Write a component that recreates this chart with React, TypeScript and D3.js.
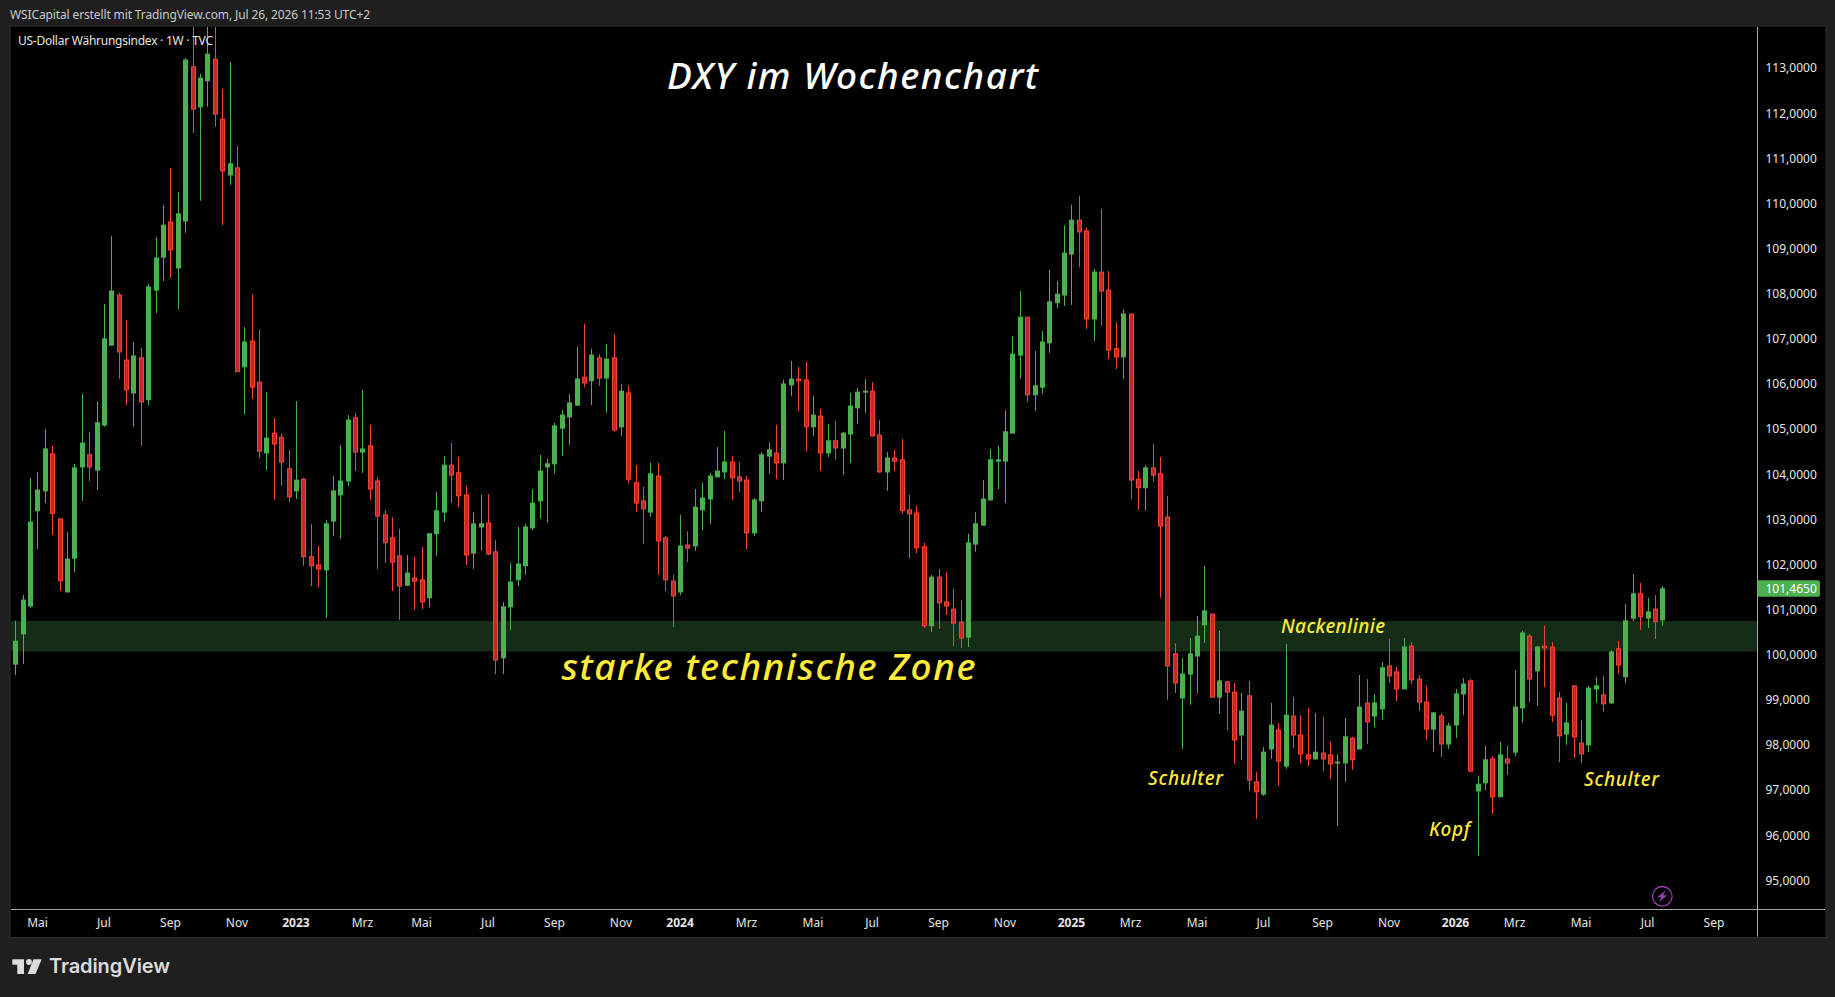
import * as d3 from "d3";
import { useEffect, useRef } from "react";

const WIDTH = 1835;
const HEIGHT = 997;

// weekly candles
const high = [
  100.75,101.32,103.92,104.05,105.00,104.63,103.02,102.72,104.23,105.78,
  104.94,105.62,107.77,109.28,108.02,107.42,106.93,106.80,108.22,109.26,
  109.97,110.79,110.26,113.22,114.07,112.87,113.99,113.99,112.54,113.14,
  111.27,107.26,107.99,107.20,105.82,105.25,104.91,104.54,105.62,103.92,
  102.90,102.41,102.99,103.96,104.65,105.31,105.36,105.87,105.09,103.94,
  103.21,103.05,102.79,102.21,102.17,102.39,102.70,103.61,104.40,104.69,
  104.38,103.74,103.16,103.54,103.56,102.54,101.17,102.03,102.83,102.90,
  103.67,104.43,104.34,105.14,105.42,105.78,106.82,107.33,106.78,106.66,
  106.89,107.11,106.00,105.96,104.20,103.72,104.25,104.25,102.63,101.77,
  103.10,102.74,103.67,103.81,104.03,104.60,104.96,104.40,104.27,103.96,
  103.47,104.49,104.71,105.09,106.09,106.51,106.38,106.49,105.73,105.45,
  105.11,105.18,104.94,105.80,105.91,106.11,106.04,105.20,104.49,104.54,
  104.78,103.54,103.30,102.48,101.77,101.90,101.83,101.46,101.21,102.68,
  103.16,103.87,104.56,104.63,105.42,107.06,108.06,107.48,106.73,107.17,
  108.53,108.28,109.52,109.97,110.17,109.46,108.55,109.88,108.50,107.37,
  107.66,107.55,104.07,104.20,104.67,104.38,103.52,100.25,99.93,100.37,
  100.86,101.97,100.90,100.53,99.40,99.37,99.15,99.42,97.40,97.95,
  98.93,98.49,100.24,99.06,98.66,98.82,98.71,98.62,98.07,97.80,
  98.60,98.18,99.55,99.46,99.13,99.84,100.35,99.73,100.37,100.28,
  99.55,99.31,98.73,98.71,98.49,99.24,99.48,99.46,97.31,97.98,
  97.75,98.07,97.98,99.66,100.53,100.46,100.19,100.64,100.28,99.17,
  98.93,99.33,98.55,99.31,99.51,99.53,100.10,100.30,101.12,101.79,
  101.59,101.26,101.32,101.52,
];
const low = [
  99.55,99.79,101.04,102.34,103.36,102.65,101.41,101.39,101.83,103.41,
  103.85,103.65,105.05,106.86,106.11,105.53,105.05,104.63,105.53,107.57,
  108.28,108.35,107.66,109.35,111.56,110.06,112.14,111.70,109.52,110.41,
  106.27,105.33,105.67,104.36,104.09,103.43,103.74,103.38,103.45,101.97,
  101.52,101.50,100.81,102.63,102.56,103.74,104.07,104.03,103.43,101.90,
  102.03,101.41,100.77,101.52,100.99,101.01,101.04,102.19,102.94,103.36,
  103.27,101.99,101.90,102.30,102.21,99.57,99.57,100.55,101.52,101.77,
  102.76,103.01,102.92,104.01,104.40,104.65,105.51,105.93,105.53,105.96,
  105.36,104.94,104.85,103.81,103.16,102.45,103.05,101.77,101.41,100.61,
  101.32,102.05,102.30,102.76,102.90,103.94,103.89,103.43,103.61,102.34,
  102.63,103.16,104.01,103.89,103.87,105.73,105.40,104.51,104.85,104.07,
  104.38,104.32,103.98,104.25,105.11,105.36,104.83,104.03,103.63,104.07,
  103.12,102.14,102.25,100.59,100.50,100.57,100.88,100.19,100.15,100.17,
  102.28,102.87,103.41,103.67,103.36,104.91,106.11,105.60,105.40,105.78,
  106.69,107.68,107.73,107.75,108.59,107.22,106.95,107.29,106.55,106.33,
  106.11,103.45,103.21,103.19,103.83,101.26,99.00,99.15,97.91,98.89,
  99.15,100.26,99.04,98.69,98.33,97.58,97.67,96.98,96.36,96.87,
  97.69,97.09,97.47,97.93,97.60,97.53,97.67,97.42,97.25,96.20,
  97.18,97.45,97.91,98.02,98.38,98.55,99.37,98.97,99.24,99.35,
  98.75,98.11,97.84,97.73,97.91,98.15,98.66,97.40,95.54,97.00,
  96.47,96.85,97.33,97.75,98.49,98.95,98.86,99.28,98.51,97.62,
  98.00,97.71,97.60,97.84,98.93,98.73,98.91,99.57,99.37,100.75,
  100.55,100.59,100.35,100.64,
];
const open = [
  99.79,100.46,101.08,103.19,103.63,104.45,103.01,101.39,102.14,104.16,
  104.43,104.09,105.09,106.86,107.97,106.53,105.80,106.58,105.65,108.08,
  108.81,109.59,108.57,109.61,113.03,112.14,112.72,113.20,111.87,110.63,
  110.79,106.38,106.95,106.04,104.47,104.91,104.82,104.12,103.63,103.89,
  102.17,101.99,101.88,102.96,103.54,103.85,105.25,104.49,104.63,103.85,
  103.10,102.59,102.19,101.54,101.70,101.66,101.26,102.68,103.16,104.20,
  104.03,103.54,102.25,102.83,102.92,102.28,99.93,101.06,101.66,101.97,
  102.81,103.41,104.16,104.23,105.02,105.27,105.53,106.15,106.07,106.58,
  106.13,106.58,105.05,105.80,103.81,103.41,103.16,103.96,102.59,101.63,
  101.39,102.43,102.41,103.21,103.45,103.94,104.05,104.27,103.94,103.87,
  102.70,103.41,104.40,104.47,104.25,105.98,106.11,106.09,105.05,105.29,
  104.47,104.74,104.58,104.89,105.47,105.82,105.84,104.87,104.05,104.36,
  104.32,103.21,103.14,102.39,100.64,101.72,101.17,101.01,100.72,100.39,
  102.45,102.87,103.43,104.29,104.29,104.91,106.64,107.48,105.76,105.93,
  106.91,107.80,107.97,108.88,109.63,109.39,107.44,108.48,108.08,106.78,
  106.60,107.55,103.89,103.70,104.14,104.01,103.05,100.02,99.04,99.57,
  99.97,100.66,100.90,99.06,99.40,99.17,98.22,99.09,97.18,96.91,
  97.91,98.33,97.53,98.64,98.22,97.78,97.69,97.82,97.78,97.60,
  97.60,98.15,97.91,98.93,98.64,98.80,99.75,99.62,99.24,100.19,
  99.46,98.95,98.35,98.64,98.02,98.44,99.13,99.42,96.98,97.16,
  97.69,96.85,97.69,97.84,98.82,100.41,99.64,100.19,100.17,99.04,
  98.24,99.31,98.04,98.00,99.24,99.11,98.93,100.13,99.51,100.81,
  101.35,100.81,101.01,100.77,
];
const close = [
  100.30,101.21,102.94,103.65,104.56,103.13,101.64,102.12,104.14,104.69,
  104.16,105.14,107.00,108.06,106.71,105.87,106.62,105.60,108.15,108.79,
  109.52,108.97,109.77,113.18,112.09,112.78,113.31,111.98,110.72,110.88,
  106.27,106.93,105.93,104.51,104.80,104.67,104.27,103.50,103.87,102.17,
  101.97,101.90,102.90,103.63,103.85,105.20,104.49,104.56,103.67,103.07,
  102.48,102.05,101.52,101.81,101.63,101.17,102.68,103.19,104.20,103.98,
  103.52,102.21,102.90,102.90,102.23,99.88,101.06,101.61,102.01,102.83,
  103.36,104.07,104.23,105.07,105.31,105.58,106.11,106.02,106.64,106.13,
  106.55,104.98,105.84,103.89,103.36,103.23,104.01,102.52,101.66,101.30,
  102.41,102.36,103.27,103.47,103.96,104.07,104.27,103.92,103.85,102.70,
  103.43,104.43,104.54,104.25,106.00,106.11,106.07,105.05,105.31,104.47,
  104.74,104.58,104.91,105.51,105.82,105.84,104.85,104.05,104.36,104.29,
  103.19,103.12,102.37,100.64,101.72,101.15,101.08,100.70,100.37,102.48,
  102.90,103.45,104.32,104.32,104.94,106.66,107.48,105.76,105.96,106.93,
  107.82,107.99,108.90,109.63,109.37,107.44,108.48,108.06,106.75,106.60,
  107.55,103.87,103.70,104.14,103.98,102.85,99.75,99.37,99.57,100.02,
  100.41,100.97,99.06,99.42,99.17,98.11,98.75,97.22,96.96,97.84,
  98.44,97.64,98.66,98.22,97.80,97.69,97.84,97.69,97.58,97.62,
  98.18,97.67,98.84,98.51,98.93,99.71,99.53,99.24,100.17,99.44,
  98.95,98.35,98.71,98.02,98.42,99.13,99.35,97.42,97.13,97.67,
  96.85,97.78,97.60,98.84,100.48,99.46,100.17,100.15,98.66,98.20,
  98.49,98.18,97.80,99.26,99.31,98.91,100.06,99.77,100.75,101.35,
  100.84,100.95,100.73,101.46,
];

// price axis
const priceTicks = [95,96,97,98,99,100,101,102,103,104,105,106,107,108,109,110,111,112,113];
const lastPrice = 101.465;

// time axis, position given as candle number
const timeLabels = ["Mai","Jul","Sep","Nov","2023","Mrz","Mai","Jul","Sep","Nov","2024","Mrz","Mai","Jul","Sep","Nov","2025","Mrz","Mai","Jul","Sep","Nov","2026","Mrz","Mai","Jul","Sep"];
const timeIndex = [3,12,21,30,38,47,55,64,73,82,90,99,108,116,125,134,143,151,160,169,177,186,195,203,212,221,230];

// the "starke technische Zone" band
const zoneTop = 100.75;
const zoneBottom = 100.07;

// wick of the candle cut off by the left edge
const edgeWick = { index: -0.68, high: 100.3, low: 99.08 };

const FONT = "'Noto Sans', sans-serif";
const NOTE_FONT = "'Noto Sans', sans-serif";

const green = "#4caf50";
const redBody = "#c62828";
const redLine = "#f44336";
const yellow = "#ffeb3b";

export default function App() {
  const svgRef = useRef<SVGSVGElement>(null);

  useEffect(() => {
    if (!svgRef.current) return;
    const svg = d3.select(svgRef.current);
    svg.selectAll("*").remove();

    const left = 11;
    const top = 27;
    const axisX = 1757.5;
    const axisY = 909.5;
    const right = 1825;
    const bottom = 936.5;

    const x = d3.scaleLinear().domain([0, 223]).range([15.33, 1662.3]);
    const y = d3.scaleLinear().domain([95, 113]).range([880.3, 68.1]);

    svg.append("rect").attr("width", WIDTH).attr("height", HEIGHT).attr("fill", "#1f1f1f");
    svg
      .append("rect")
      .attr("x", left - 1)
      .attr("y", top - 1)
      .attr("width", right - left + 2)
      .attr("height", bottom - top + 2)
      .attr("fill", "#000")
      .attr("stroke", "#2e2e2e")
      .attr("stroke-width", 1);

    svg
      .append("defs")
      .append("clipPath")
      .attr("id", "plot")
      .append("rect")
      .attr("x", left)
      .attr("y", top)
      .attr("width", axisX - left)
      .attr("height", axisY - top);

    const plot = svg.append("g").attr("clip-path", "url(#plot)");

    plot
      .append("rect")
      .attr("x", left)
      .attr("width", axisX - left)
      .attr("y", y(zoneTop))
      .attr("height", y(zoneBottom) - y(zoneTop))
      .attr("fill", "#152d16");

    plot
      .append("line")
      .attr("x1", x(edgeWick.index))
      .attr("x2", x(edgeWick.index))
      .attr("y1", y(edgeWick.high))
      .attr("y2", y(edgeWick.low))
      .attr("stroke", green);

    const candles = plot
      .selectAll("g.candle")
      .data(d3.range(open.length))
      .enter()
      .append("g")
      .attr("class", "candle");

    candles
      .append("line")
      .attr("x1", (i) => Math.round(x(i)) + 0.5)
      .attr("x2", (i) => Math.round(x(i)) + 0.5)
      .attr("y1", (i) => y(high[i]))
      .attr("y2", (i) => y(low[i]))
      .attr("stroke", (i) => (close[i] >= open[i] ? green : redLine))
      .attr("stroke-width", 1);

    candles
      .append("rect")
      .attr("x", (i) => Math.round(x(i)) - 1.5)
      .attr("width", 4)
      .attr("y", (i) => y(Math.max(open[i], close[i])))
      .attr("height", (i) => Math.max(1, Math.abs(y(open[i]) - y(close[i]))))
      .attr("fill", (i) => (close[i] >= open[i] ? green : redBody))
      .attr("stroke", (i) => (close[i] >= open[i] ? green : redLine))
      .attr("stroke-width", 1);

    // axis lines
    svg
      .append("line")
      .attr("x1", left)
      .attr("x2", right)
      .attr("y1", axisY)
      .attr("y2", axisY)
      .attr("stroke", "#a8a8a8");
    svg
      .append("line")
      .attr("x1", axisX)
      .attr("x2", axisX)
      .attr("y1", top)
      .attr("y2", bottom)
      .attr("stroke", "#a8a8a8");

    const deDE = d3.formatLocale({
      decimal: ",",
      thousands: ".",
      grouping: [3],
      currency: ["", " €"],
    });
    const priceFormat = deDE.format(".4f");

    const priceAxis = d3
      .axisRight(y)
      .tickValues(priceTicks)
      .tickSize(0)
      .tickPadding(8)
      .tickFormat((d) => priceFormat(d as number));
    const priceG = svg.append("g").attr("transform", `translate(${axisX},0)`).call(priceAxis);
    priceG.select(".domain").remove();
    priceG
      .selectAll("text")
      .attr("fill", "#e6e6e6")
      .attr("font-family", FONT)
      .attr("font-size", 12);

    const timeAxis = d3
      .axisBottom(x)
      .tickValues(timeIndex.map((_, k) => k))
      .tickSize(0);
    const timeG = svg.append("g").attr("transform", `translate(0,${axisY})`).call(timeAxis);
    timeG.select(".domain").remove();
    timeG
      .selectAll<SVGGElement, number>(".tick")
      .attr("transform", (k) => `translate(${x(timeIndex[k])},0)`);
    timeG
      .selectAll<SVGTextElement, number>("text")
      .text((k) => timeLabels[k])
      .attr("y", 13)
      .attr("dy", "0.35em")
      .attr("fill", "#e6e6e6")
      .attr("font-family", FONT)
      .attr("font-size", 12)
      .attr("font-weight", (k) => (/^\d/.test(timeLabels[k]) ? 700 : 400));

    // last price tag
    const tagH = 16.5;
    const tagY = y(lastPrice) - tagH / 2;
    svg
      .append("path")
      .attr(
        "d",
        `M${axisX},${tagY}H1818a2,2 0 0 1 2,2V${tagY + tagH - 2}a2,2 0 0 1 -2,2H${axisX}Z`
      )
      .attr("fill", green);
    svg
      .append("text")
      .attr("x", axisX + 8)
      .attr("y", y(lastPrice))
      .attr("dy", "0.35em")
      .attr("fill", "#fff")
      .attr("font-family", FONT)
      .attr("font-size", 12)
      .text(priceFormat(lastPrice));

    // lightning badge
    const badge = svg.append("g").attr("transform", "translate(1662.3,896.3)");
    badge
      .append("circle")
      .attr("r", 9.8)
      .attr("fill", "none")
      .attr("stroke", "#9c3fb0")
      .attr("stroke-width", 1.3);
    badge.append("path").attr("d", "M3.5,-6L-5,1H-0.8L-3.5,6L5,-1H0.8Z").attr("fill", "#9c3fb0");

    // header and legend
    const addText = (
      s: string,
      tx: number,
      ty: number,
      size: number,
      fill: string,
      family = FONT,
      weight = 400
    ) =>
      svg
        .append("text")
        .attr("x", tx)
        .attr("y", ty)
        .attr("font-family", family)
        .attr("font-size", size)
        .attr("font-weight", weight)
        .attr("fill", fill)
        .text(s);

    addText("WSICapital erstellt mit TradingView.com, Jul 26, 2026 11:53 UTC+2", 10, 19, 12, "#c8c8c8").attr("textLength", 360);
    addText("US-Dollar Währungsindex · 1W · TVC", 18, 45, 12, "#e6e6e6").attr("textLength", 195);

    // annotations, stretched to the width they have in the picture
    const addNote = (s: string, tx: number, ty: number, size: number, fill: string, width: number) =>
      addText(s, tx, ty, size, fill, NOTE_FONT, 500)
        .attr("font-style", "italic")
        .attr("textLength", width);

    addNote("DXY im Wochenchart", 667, 89, 37, "#ffffff", 371);
    addNote("starke technische Zone", 561.5, 679.5, 37, yellow, 414);
    addNote("Nackenlinie", 1281, 632.5, 19, yellow, 104);
    addNote("Schulter", 1148, 785, 19, yellow, 75);
    addNote("Schulter", 1584, 786, 19, yellow, 75);
    addNote("Kopf", 1429, 836, 19, yellow, 41);

    // TradingView mark
    const logo = svg.append("g").attr("fill", "#dcdcdc");
    logo.append("path").attr("d", "M12.3,959.3H24V974H17.3V964.7H12.3Z");
    logo.append("circle").attr("cx", 29).attr("cy", 962).attr("r", 2.9);
    logo.append("path").attr("d", "M33.5,959.3H41.7L35.5,974H27.7Z");
    addText("TradingView", 49, 973, 20, "#dcdcdc", "Inter, sans-serif", 600).attr("textLength", 121);
  }, []);

  return (
    <svg
      ref={svgRef}
      width={WIDTH}
      height={HEIGHT}
      style={{ position: "absolute", left: 0, top: 0, display: "block" }}
    />
  );
}
